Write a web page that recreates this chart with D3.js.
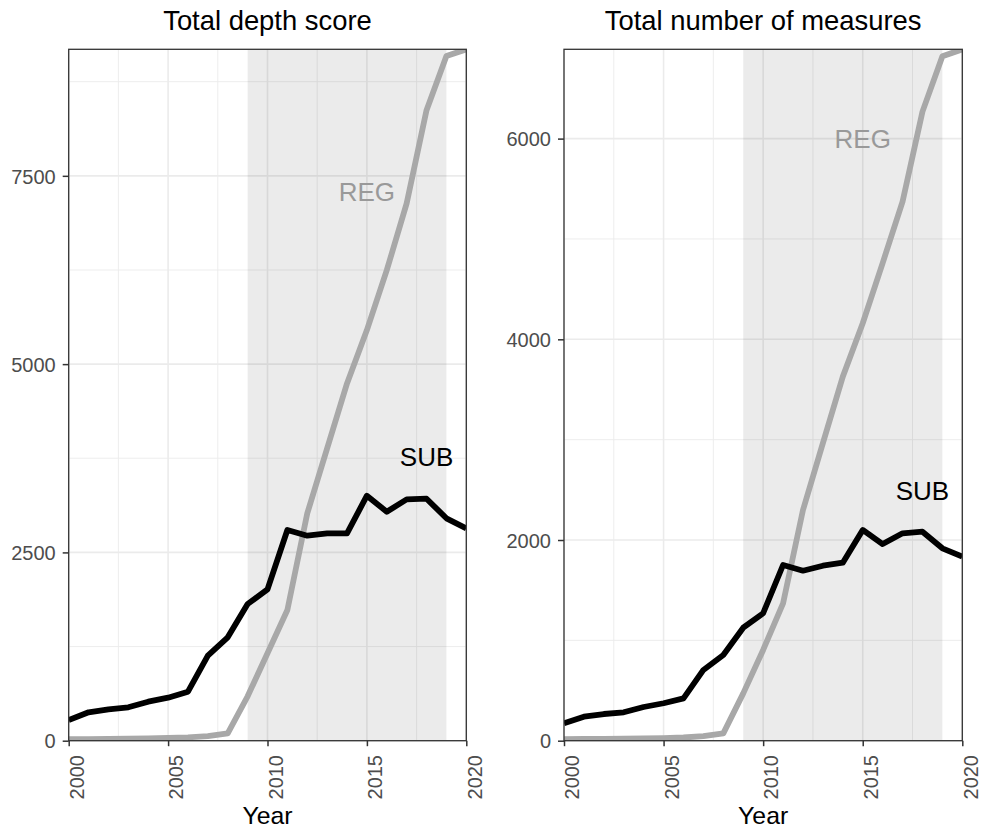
<!DOCTYPE html>
<html>
<head>
<meta charset="utf-8">
<script src="https://cdn.jsdelivr.net/npm/d3@7"></script>
<style>
  html, body { margin: 0; padding: 0; background: #fff; }
  svg { display: block; font-family: "Liberation Sans", Arial, sans-serif; }
</style>
</head>
<body>
<svg id="chart" width="981" height="831"></svg>
<script>
// ---- data ----
const years = [2000, 2001, 2002, 2003, 2004, 2005, 2006, 2007, 2008, 2009, 2010,
               2011, 2012, 2013, 2014, 2015, 2016, 2017, 2018, 2019, 2020];

const depthSUB = [275, 377, 417, 443, 518, 571, 651, 1129, 1373, 1815, 2010,
                  2797, 2722, 2753, 2753, 3253, 3040, 3204, 3213, 2953, 2820];
const depthREG = [20, 22, 24, 27, 31, 36, 45, 62, 98, 590, 1160,
                  1735, 3018, 3880, 4744, 5452, 6247, 7134, 8372, 9090, 9180];

const measSUB = [173, 239, 266, 283, 336, 373, 422, 705, 854, 1126, 1270,
                 1751, 1694, 1744, 1774, 2100, 1960, 2067, 2083, 1917, 1834];
const measREG = [15, 17, 19, 20, 22, 25, 32, 45, 73, 472, 904,
                 1369, 2299, 2966, 3628, 4160, 4760, 5372, 6269, 6820, 6890];

const titles = ["Total depth score", "Total number of measures"];
const xTicks = [2000, 2005, 2010, 2015, 2020];
const xMinor = [2002.5, 2007.5, 2012.5, 2017.5];
const depthTicks = [0, 2500, 5000, 7500];
const depthMinor = [1250, 3750, 6250, 8750];
const measTicks = [0, 2000, 4000, 6000];
const measMinor = [1000, 3000, 5000];
const shadeRange = [2009, 2019];
const regLabelPos = [[2015, 7290], [2015, 6000]];
const subLabelPos = [[2018, 3780], [2018, 2490]];

// ---- layout ----
const svg = d3.select("#chart");
const panelTop = 49.3, panelBottom = 740.7;
const panels = [
  { x0: 68.7, x1: 466.3, title: titles[0], sub: depthSUB, reg: depthREG,
    yTicks: depthTicks, yMinor: depthMinor, regLab: regLabelPos[0], subLab: subLabelPos[0] },
  { x0: 564, x1: 962.3, title: titles[1], sub: measSUB, reg: measREG,
    yTicks: measTicks, yMinor: measMinor, regLab: regLabelPos[1], subLab: subLabelPos[1] }
];

panels.forEach((p, i) => {
  const x = d3.scaleLinear().domain([2000, 2020]).range([p.x0, p.x1]);
  const y = d3.scaleLinear().domain([0, d3.max(p.reg)]).range([panelBottom, panelTop]);
  const g = svg.append("g");
  const clipId = "clip" + i;
  svg.append("clipPath").attr("id", clipId).append("rect")
    .attr("x", p.x0).attr("y", panelTop).attr("width", p.x1 - p.x0).attr("height", panelBottom - panelTop);

  // minor grid
  g.selectAll(".vminor").data(xMinor).join("line")
    .attr("x1", d => x(d)).attr("x2", d => x(d)).attr("y1", panelTop).attr("y2", panelBottom)
    .attr("stroke", "#ebebeb").attr("stroke-width", 0.9);
  g.selectAll(".hminor").data(p.yMinor).join("line")
    .attr("x1", p.x0).attr("x2", p.x1).attr("y1", d => y(d)).attr("y2", d => y(d))
    .attr("stroke", "#ebebeb").attr("stroke-width", 0.9);
  // major grid
  g.selectAll(".vmajor").data(xTicks).join("line")
    .attr("x1", d => x(d)).attr("x2", d => x(d)).attr("y1", panelTop).attr("y2", panelBottom)
    .attr("stroke", "#ebebeb").attr("stroke-width", 1.6);
  g.selectAll(".hmajor").data(p.yTicks).join("line")
    .attr("x1", p.x0).attr("x2", p.x1).attr("y1", d => y(d)).attr("y2", d => y(d))
    .attr("stroke", "#ebebeb").attr("stroke-width", 1.6);

  // shaded period
  g.append("rect")
    .attr("x", x(shadeRange[0])).attr("width", x(shadeRange[1]) - x(shadeRange[0]))
    .attr("y", panelTop).attr("height", panelBottom - panelTop)
    .attr("fill", "#000").attr("fill-opacity", 0.078);

  const line = d3.line().x((d, k) => x(years[k])).y(d => y(d));
  const lg = g.append("g").attr("clip-path", `url(#${clipId})`);
  lg.append("path").datum(p.reg).attr("d", line)
    .attr("fill", "none").attr("stroke", "#a8a8a8").attr("stroke-width", 5.8)
    .attr("stroke-linejoin", "round");
  lg.append("path").datum(p.sub).attr("d", line)
    .attr("fill", "none").attr("stroke", "#000").attr("stroke-width", 5.8)
    .attr("stroke-linejoin", "round");

  // labels
  g.append("text").attr("x", x(p.regLab[0])).attr("y", y(p.regLab[1]) + 9.5)
    .attr("text-anchor", "middle").attr("font-size", 26).attr("fill", "#999999").text("REG");
  g.append("text").attr("x", x(p.subLab[0])).attr("y", y(p.subLab[1]) + 9.5)
    .attr("text-anchor", "middle").attr("font-size", 26).attr("fill", "#000").text("SUB");

  // panel border
  g.append("rect").attr("x", p.x0).attr("y", panelTop).attr("width", p.x1 - p.x0).attr("height", panelBottom - panelTop)
    .attr("fill", "none").attr("stroke", "#333333").attr("stroke-width", 1.3);

  // y axis
  const ya = g.append("g").attr("transform", `translate(${p.x0},0)`)
    .call(d3.axisLeft(y).tickValues(p.yTicks).tickSize(6).tickPadding(7).tickFormat(d3.format("d")));
  ya.select(".domain").remove();
  ya.selectAll(".tick line").attr("stroke", "#333333").attr("stroke-width", 1.5);
  ya.selectAll(".tick text").attr("font-size", 20).attr("fill", "#4d4d4d")
    .attr("font-family", "Liberation Sans, Arial, sans-serif").attr("dy", "0.36em");

  // x axis
  const xa = g.append("g").attr("transform", `translate(0,${panelBottom})`)
    .call(d3.axisBottom(x).tickValues(xTicks).tickSize(5.5).tickFormat(d3.format("d")));
  xa.select(".domain").remove();
  xa.selectAll(".tick line").attr("stroke", "#333333").attr("stroke-width", 1.5);
  xa.selectAll(".tick text")
    .attr("transform", "rotate(-90)")
    .attr("x", -14.3).attr("y", 14.8).attr("dy", 0)
    .attr("text-anchor", "end")
    .attr("font-size", 20).attr("fill", "#4d4d4d")
    .attr("font-family", "Liberation Sans, Arial, sans-serif");

  // titles
  g.append("text").attr("x", (p.x0 + p.x1) / 2).attr("y", 30)
    .attr("text-anchor", "middle").attr("font-size", 27.4).attr("fill", "#000").text(p.title);
  g.append("text").attr("x", (p.x0 + p.x1) / 2).attr("y", 824)
    .attr("text-anchor", "middle").attr("font-size", 24.8).attr("fill", "#000").text("Year");
});
</script>
</body>
</html>
